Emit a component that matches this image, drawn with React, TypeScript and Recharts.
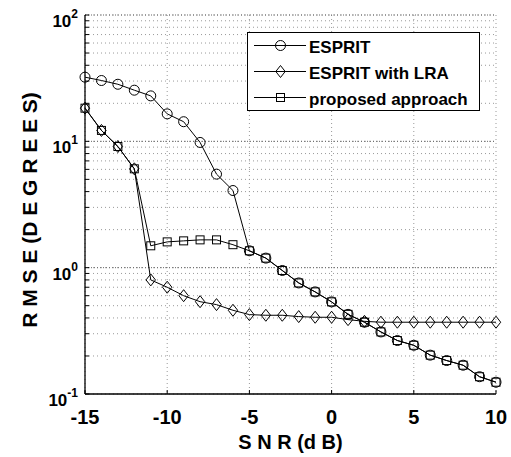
import React from 'react';
import { LineChart, Line, XAxis, YAxis, CartesianGrid, Legend, Label, ReferenceLine } from 'recharts';

const snr = [-15, -14, -13, -12, -11, -10, -9, -8, -7, -6, -5, -4, -3, -2, -1, 0, 1, 2, 3, 4, 5, 6, 7, 8, 9, 10];
const espritRmse = [32.2, 30.3, 28.3, 25.4, 22.9, 16.5, 14.3, 9.8, 5.5, 4.08, 1.36, 1.19, 0.95, 0.757, 0.643, 0.536, 0.427, 0.37, 0.31, 0.265, 0.243, 0.203, 0.184, 0.169, 0.137, 0.124];
const lraRmse = [18.3, 12.2, 9.1, 6.06, 0.8, 0.7, 0.6, 0.538, 0.51, 0.46, 0.425, 0.42, 0.42, 0.41, 0.405, 0.405, 0.388, 0.376, 0.37, 0.37, 0.37, 0.37, 0.37, 0.37, 0.37, 0.37];
const proposedRmse = [18.3, 12.2, 9.1, 6.06, 1.49, 1.6, 1.63, 1.66, 1.66, 1.52, 1.36, 1.19, 0.95, 0.757, 0.643, 0.536, 0.427, 0.37, 0.31, 0.265, 0.243, 0.203, 0.184, 0.169, 0.137, 0.124];

const xTicks = [-15, -10, -5, 0, 5, 10];
const yTicks = [0.1, 0.2, 0.3, 0.4, 0.5, 0.6, 0.7, 0.8, 0.9, 1, 2, 3, 4, 5, 6, 7, 8, 9, 10, 20, 30, 40, 50, 60, 70, 80, 90, 100];
const decadeLines = [1, 10, 100];

const seriesKeys = ['esprit', 'lra', 'proposed'];
const seriesNames = ['ESPRIT', 'ESPRIT with LRA', 'proposed approach'];
const seriesShapes = ['circle', 'diamond', 'square'];

const data = snr.map((x, i) => ({
  snr: x,
  esprit: espritRmse[i],
  lra: lraRmse[i],
  proposed: proposedRmse[i],
}));

const FONT = '"Liberation Sans", Arial, Helvetica, sans-serif';

function markerEl(shape: string, cx: number, cy: number, key?: any) {
  if (cx == null || cy == null || isNaN(cx) || isNaN(cy)) return <g key={key} />;
  if (shape === 'circle') {
    return <circle key={key} cx={cx} cy={cy} r={5} fill="none" stroke="#000" strokeWidth={1} />;
  }
  if (shape === 'diamond') {
    return (
      <polygon
        key={key}
        points={`${cx},${cy - 6} ${cx + 4.7},${cy} ${cx},${cy + 6} ${cx - 4.7},${cy}`}
        fill="none"
        stroke="#000"
        strokeWidth={1}
      />
    );
  }
  return <rect key={key} x={cx - 4} y={cy - 4} width={8} height={8} fill="none" stroke="#000" strokeWidth={1} />;
}

const YTick = (props: any) => {
  const { x, y, payload } = props;
  const v = payload.value;
  const lg = Math.log10(v);
  const isDecade = Math.abs(lg - Math.round(lg)) < 1e-9;
  return (
    <g>
      <line x1={x} y1={y} x2={x + 4} y2={y} stroke="#000" strokeWidth={1} />
      {isDecade && (
        <text x={x - 7} y={y + 12} textAnchor="end" fontFamily={FONT} fontWeight="bold" fill="#000">
          <tspan fontSize={17}>10</tspan>
          <tspan fontSize={12} dy={-9}>{String(Math.round(lg))}</tspan>
        </text>
      )}
    </g>
  );
};

const XTick = (props: any) => {
  const { x, y, payload } = props;
  return (
    <g>
      <line x1={x} y1={y} x2={x} y2={y - 4} stroke="#000" strokeWidth={1} />
      <text x={x} y={y + 30} textAnchor="middle" fontFamily={FONT} fontWeight="bold" fontSize={20} fill="#000">
        {payload.value}
      </text>
    </g>
  );
};

const renderLegend = () => (
  <div
    style={{
      width: 233,
      height: 79,
      border: '1px solid #000',
      background: '#fff',
      boxSizing: 'border-box',
    }}
  >
    <svg width={231} height={77} style={{ display: 'block' }}>
      {seriesNames.map((name, i) => {
        const cy = 12.5 + i * 26;
        return (
          <g key={name}>
            <line x1={6} y1={cy} x2={58} y2={cy} stroke="#000" strokeWidth={1} />
            {markerEl(seriesShapes[i], 32.5, cy)}
            <text x={61} y={cy + 7} fontFamily={FONT} fontWeight="bold" fontSize={17} fill="#000">
              {name}
            </text>
          </g>
        );
      })}
    </svg>
  </div>
);

const renderYLabel = () => (
  <text
    transform="translate(28.5, 202) rotate(-90)"
    textAnchor="middle"
    fontFamily={FONT}
    fontWeight="bold"
    fontSize={21}
    fill="#000"
  >
    R M S E (D E G R E E S)
  </text>
);

const renderXLabel = () => (
  <text x={282.5} y={441} textAnchor="middle" fontFamily={FONT} fontWeight="bold" fontSize={20} fill="#000">
    S N R (d B)
  </text>
);

export default function App() {
  return (
    <div style={{ position: 'absolute', left: 8, top: 8, width: 503, height: 449, background: '#fff', overflow: 'hidden' }}>
      <LineChart width={503} height={449} data={data} margin={{ top: 7, right: 15, bottom: 0, left: 0 }}>
        <CartesianGrid stroke="#999" strokeDasharray="1 3" strokeWidth={1} />
        {decadeLines.map((v) => (
          <ReferenceLine key={v} y={v} stroke="#666" strokeDasharray="1 2" strokeWidth={1} />
        ))}
        <XAxis
          dataKey="snr"
          type="number"
          domain={[-15, 10]}
          ticks={xTicks}
          interval={0}
          height={63}
          tickSize={0}
          tickMargin={0}
          tick={<XTick />}
          axisLine={{ stroke: '#000', strokeWidth: 1.3 }}
          tickLine={false}
        >
          <Label content={renderXLabel} />
        </XAxis>
        <YAxis
          type="number"
          scale="log"
          domain={[0.1, 100]}
          allowDataOverflow
          ticks={yTicks}
          interval={0}
          width={77}
          tickSize={0}
          tickMargin={0}
          tick={<YTick />}
          axisLine={{ stroke: '#000', strokeWidth: 1.3 }}
          tickLine={false}
        >
          <Label content={renderYLabel} />
        </YAxis>
        <Legend
          layout="vertical"
          align="center"
          verticalAlign="middle"
          content={renderLegend}
          wrapperStyle={{ position: 'absolute', left: 239, top: 24, width: 233, height: 79, bottom: 'auto', right: 'auto' }}
        />
        {seriesKeys.map((k, i) => (
          <Line
            key={k}
            dataKey={k}
            name={seriesNames[i]}
            type="linear"
            stroke="#000"
            strokeWidth={1}
            isAnimationActive={false}
            dot={(p: any) => markerEl(seriesShapes[i], p.cx, p.cy, `${k}-${p.index}`)}
            activeDot={false}
          />
        ))}
      </LineChart>
    </div>
  );
}
